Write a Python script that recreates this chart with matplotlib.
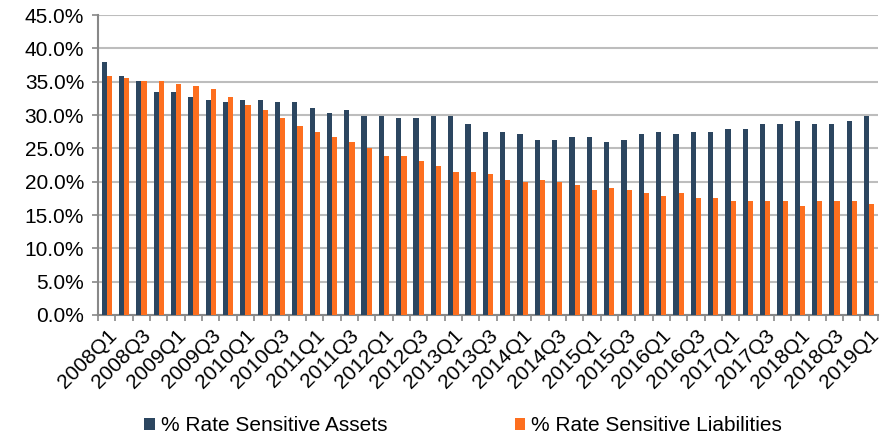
import numpy as np
import matplotlib.pyplot as plt
from matplotlib.ticker import MultipleLocator, FuncFormatter

plt.rcParams['font.family'] = ['Liberation Sans', 'DejaVu Sans']

quarters = [f"{y}Q{q}" for y in range(2008, 2020) for q in range(1, 5)][:45]
assets = [38.0, 35.9, 35.1, 33.5, 33.5, 32.7, 32.3, 31.9, 32.3, 32.3, 31.9, 31.9,
          31.1, 30.3, 30.7, 29.9, 29.9, 29.5, 29.5, 29.9, 29.9, 28.7, 27.5, 27.5,
          27.1, 26.3, 26.3, 26.7, 26.7, 25.9, 26.3, 27.1, 27.5, 27.1, 27.5, 27.5,
          27.9, 27.9, 28.7, 28.7, 29.1, 28.7, 28.7, 29.1, 29.9]
liabilities = [35.9, 35.5, 35.1, 35.1, 34.7, 34.3, 33.9, 32.7, 31.5, 30.7, 29.5, 28.3,
               27.5, 26.7, 25.9, 25.1, 23.9, 23.9, 23.1, 22.3, 21.5, 21.5, 21.1, 20.3,
               19.9, 20.3, 19.9, 19.5, 18.7, 19.1, 18.7, 18.3, 17.9, 18.3, 17.5, 17.5,
               17.1, 17.1, 17.1, 17.1, 16.3, 17.1, 17.1, 17.1, 16.6]

dark = "#2C4660"
orange = "#FD6F1F"

fig = plt.figure(figsize=(8.84, 4.43), dpi=100)
ax = fig.add_axes([0.111, 0.289, 0.882, 0.677])

x = np.arange(len(quarters))
w = 0.3
ax.bar(x - w / 2, assets, w, color=dark, label="% Rate Sensitive Assets", zorder=3)
ax.bar(x + w / 2, liabilities, w, color=orange, label="% Rate Sensitive Liabilities", zorder=3)

ax.set_ylim(0, 45)
ax.set_xlim(-0.5, len(quarters) - 0.5)
ax.yaxis.set_major_locator(MultipleLocator(5))
ax.yaxis.set_major_formatter(FuncFormatter(lambda v, p: f"{v:.1f}%"))
ax.grid(axis="y", color="#bdbdbd", linewidth=1.5, zorder=0)

ax.set_xticks(x[::2])
ax.set_xticklabels(quarters[::2], rotation=45, ha="right", rotation_mode="anchor", fontsize=15)
ax.set_xticks(np.arange(-0.5, len(quarters)), minor=True)
ax.tick_params(axis="x", which="major", length=0, pad=8)
ax.tick_params(axis="x", which="minor", length=4, color="#888888", width=1.2)
ax.tick_params(axis="y", length=4, color="#888888", width=1.2, labelsize=15, pad=6)

for s in ["top", "right"]:
    ax.spines[s].set_visible(False)
for s in ["left", "bottom"]:
    ax.spines[s].set_color("#888888")
    ax.spines[s].set_linewidth(1.5)

fig.legend(loc="lower center", bbox_to_anchor=(0.524, -0.025), ncol=2, frameon=False,
           fontsize=15, handlelength=0.5, handleheight=0.5, handletextpad=0.3,
           columnspacing=6.1)

fig.savefig("out.png", dpi=100)
